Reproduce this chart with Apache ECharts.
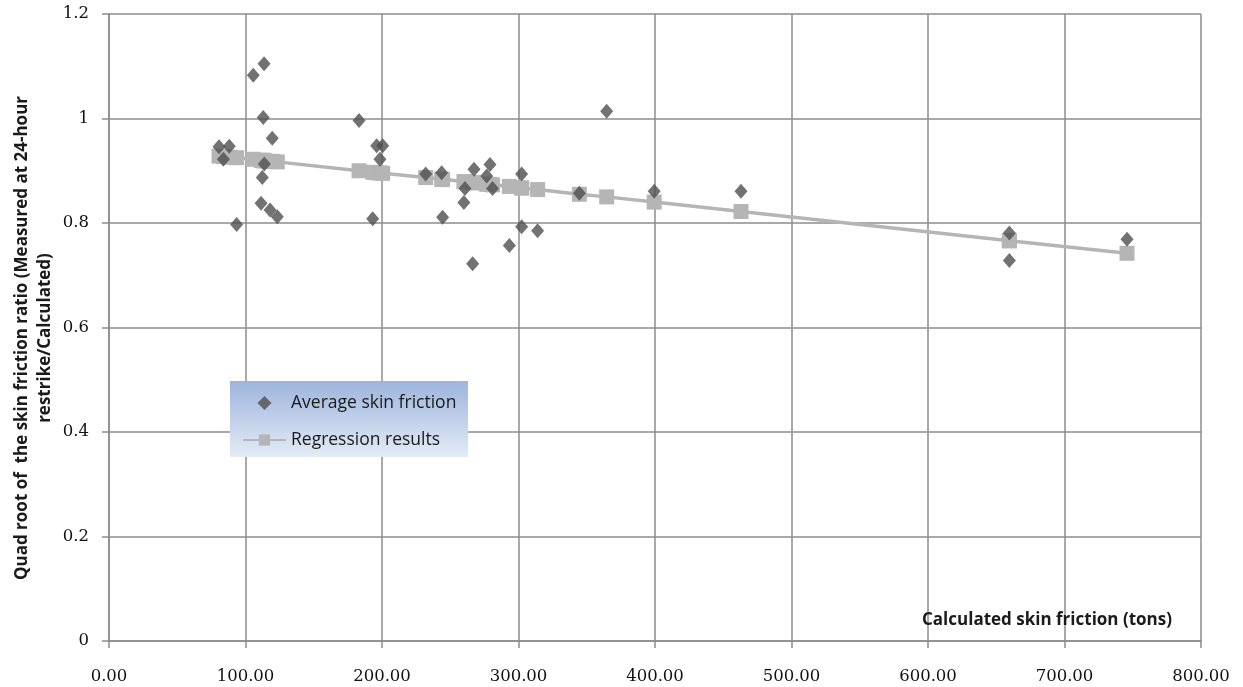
<!DOCTYPE html>
<html>
<head>
<meta charset="utf-8">
<script src="https://cdn.jsdelivr.net/npm/echarts@6/dist/echarts.min.js"></script>
<style>
  html, body { margin: 0; padding: 0; background: #fff; }
  #chart { width: 1243px; height: 687px; }
</style>
</head>
<body>
<div id="chart"></div>
<script>
// Calculated skin friction (tons) for each pile
const frictionTons = [
  80.6, 83.8, 88.1, 93.5, 105.7, 111.4, 112.3, 113.0, 113.6, 113.8, 118.0, 119.6, 123.3,
  183.2, 193.2, 196.1, 198.5, 200.5, 232.0, 243.7, 244.4, 260.0, 260.8, 266.4, 267.4,
  276.7, 279.1, 281.0, 293.3, 302.3, 302.3, 314.0, 344.6, 364.6, 399.4, 463.0, 659.6,
  659.6, 745.8
];
// Quad root of measured / calculated ratio (average skin friction)
const averageRatio = [
  0.946, 0.922, 0.947, 0.797, 1.083, 0.838, 0.887, 1.002, 1.105, 0.913, 0.825, 0.962, 0.812,
  0.996, 0.808, 0.948, 0.922, 0.948, 0.894, 0.896, 0.811, 0.839, 0.866, 0.722, 0.903,
  0.890, 0.912, 0.866, 0.757, 0.894, 0.793, 0.785, 0.857, 1.014, 0.861, 0.861, 0.781,
  0.728, 0.769
];
// Regression results at the same friction values
const regressionRatio = [
  0.928, 0.927, 0.926, 0.925, 0.922, 0.920, 0.920, 0.920, 0.919, 0.919, 0.918, 0.918, 0.917,
  0.900, 0.897, 0.896, 0.896, 0.895, 0.887, 0.884, 0.883, 0.879, 0.879, 0.877, 0.877,
  0.874, 0.874, 0.873, 0.870, 0.867, 0.867, 0.864, 0.855, 0.850, 0.840, 0.822, 0.766,
  0.766, 0.742
];

const seriesNames = ['Average skin friction', 'Regression results'];
const xAxisTitle = 'Calculated skin friction (tons)';
const yAxisTitle = 'Quad root of  the skin friction ratio (Measured at 24-hour\nrestrike/Calculated)';

const pairs = (xs, ys) => xs.map((x, i) => [x, ys[i]]);

const chart = echarts.init(document.getElementById('chart'), null, { renderer: 'canvas' });

const gridColor = '#8c8c8c';
const labelFont = { fontFamily: 'DejaVu Serif', fontSize: 16.5, color: '#111' };
// diamond centred in a wide legend box so it keeps its shape
const diamondIcon = 'path://M0,7L7,0L14,7L7,14Z';

chart.setOption({
  animation: false,
  backgroundColor: '#ffffff',
  grid: { left: 109, right: 42, top: 14, bottom: 46, containLabel: false, outerBoundsMode: 'none' },
  xAxis: {
    type: 'value',
    min: 0, max: 800, interval: 100,
    axisLine: { show: true, lineStyle: { color: gridColor, width: 1.5 } },
    axisTick: { show: true, length: 7, inside: false, lineStyle: { color: gridColor, width: 1.5 } },
    splitLine: { show: true, lineStyle: { color: gridColor, width: 1.5 } },
    axisLabel: Object.assign({ margin: 27, formatter: v => v.toFixed(2) }, labelFont)
  },
  yAxis: {
    type: 'value',
    min: 0, max: 1.2, interval: 0.2,
    axisLine: { show: true, lineStyle: { color: gridColor, width: 1.5 } },
    axisTick: { show: true, length: 7, lineStyle: { color: gridColor, width: 1.5 } },
    splitLine: { show: true, lineStyle: { color: gridColor, width: 1.5 } },
    axisLabel: Object.assign({ margin: 20 }, labelFont)
  },
  legend: {
    data: [
      { name: seriesNames[0], icon: diamondIcon },
      { name: seriesNames[1] }
    ],
    orient: 'vertical',
    left: 237, top: 389,
    itemGap: 19,
    itemWidth: 43, itemHeight: 14,
    symbolKeepAspect: true,
    textStyle: { fontFamily: 'Open Sans', fontSize: 17.5, color: '#1a1a1a' },
    z: 10
  },
  graphic: [
    {
      type: 'rect',
      left: 230, top: 381, z: 5,
      shape: { width: 238, height: 76 },
      style: {
        fill: new echarts.graphic.LinearGradient(0, 0, 0, 1, [
          { offset: 0, color: '#9db4dc' },
          { offset: 1, color: '#e4ebf6' }
        ])
      }
    },
    {
      // x-axis title, set inside the plot above the axis
      type: 'text',
      left: 922, top: 612, z: 5,
      style: { text: xAxisTitle, font: 'bold 17px "Open Sans"', fill: '#1a1a1a' }
    },
    {
      // y-axis title, two rotated lines
      type: 'text',
      x: 34, y: 338, rotation: Math.PI / 2, z: 5,
      style: {
        text: yAxisTitle,
        font: 'bold 17px "Open Sans"',
        fill: '#1a1a1a',
        lineHeight: 23,
        align: 'center',
        verticalAlign: 'middle'
      }
    }
  ],
  series: [
    {
      name: seriesNames[1],
      type: 'line',
      data: pairs(frictionTons, regressionRatio),
      symbol: 'rect',
      symbolSize: 15,
      z: 2,
      lineStyle: { color: '#b5b5b5', width: 3.5 },
      itemStyle: { color: '#b5b5b5' }
    },
    {
      name: seriesNames[0],
      type: 'scatter',
      data: pairs(frictionTons, averageRatio),
      symbol: 'diamond',
      symbolSize: [13, 15],
      z: 3,
      itemStyle: { color: '#4f4f4f' }
    }
  ]
});
</script>
</body>
</html>
